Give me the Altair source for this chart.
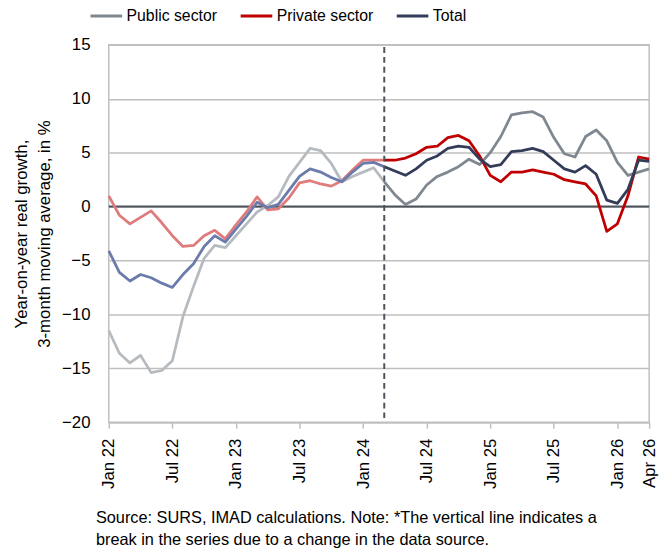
import altair as alt
import pandas as pd

MONTH_ABBR = ["Jan", "Feb", "Mar", "Apr", "May", "Jun", "Jul", "Aug", "Sep", "Oct", "Nov", "Dec"]
months = [f"{m} {y:02d}" for y in range(22, 27) for m in MONTH_ABBR][:52]  # Jan 22 .. Apr 26

tick_labels = ["Jan 22", "Jul 22", "Jan 23", "Jul 23", "Jan 24", "Jul 24",
               "Jan 25", "Jul 25", "Jan 26", "Apr 26"]
break_month = "Mar 24"
break_index = 26

series_names = ["Public sector", "Private sector", "Total"]

public = [-11.5, -13.6, -14.5, -13.8, -15.4, -15.2, -14.3, -10.2, -7.4, -4.8,
          -3.6, -3.8, -2.7, -1.6, -0.5, 0.1, 0.9, 2.8, 4.1, 5.4,
          5.2, 4.0, 2.3, 2.8, 3.2, 3.6, 2.3, 1.1, 0.2, 0.7,
          2.0, 2.8, 3.2, 3.7, 4.4, 3.9, 5.0, 6.5, 8.5, 8.7,
          8.8, 8.3, 6.4, 4.9, 4.6, 6.5, 7.1, 6.1, 4.1, 2.9,
          3.2, 3.5]
private = [1.0, -0.8, -1.6, -1.0, -0.4, -1.5, -2.7, -3.7, -3.6, -2.7,
           -2.2, -3.0, -1.7, -0.5, 0.9, -0.3, -0.2, 0.8, 2.2, 2.4,
           2.1, 1.9, 2.4, 3.4, 4.3, 4.3, 4.3, 4.3, 4.5, 4.9,
           5.5, 5.6, 6.4, 6.6, 6.1, 4.7, 2.9, 2.3, 3.2, 3.2,
           3.4, 3.2, 3.0, 2.5, 2.3, 2.1, 1.0, -2.3, -1.6, 1.0,
           4.6, 4.4]
total = [-4.1, -6.1, -6.9, -6.3, -6.6, -7.1, -7.5, -6.3, -5.3, -3.7,
         -2.7, -3.3, -2.1, -0.9, 0.4, -0.1, 0.2, 1.5, 2.8, 3.5,
         3.2, 2.7, 2.3, 3.2, 4.0, 4.1, 3.7, 3.3, 2.9, 3.5,
         4.3, 4.7, 5.4, 5.6, 5.5, 4.4, 3.7, 3.9, 5.1, 5.2,
         5.4, 5.1, 4.3, 3.5, 3.2, 3.8, 3.0, 0.6, 0.3, 1.6,
         4.3, 4.2]

full_colors = ["#7f8790", "#c00000", "#333d5a"]
faded_colors = ["#b6bbc0", "#df7b7b", "#6b7bab"]

rows = []
for name, vals in zip(series_names, [public, private, total]):
    for i, (m, v) in enumerate(zip(months, vals)):
        if i <= break_index:
            rows.append({"month": m, "series": name, "value": v, "part": "faded"})
        if i >= break_index:
            rows.append({"month": m, "series": name, "value": v, "part": "full"})
df = pd.DataFrame(rows)

FONT = "Liberation Sans"

x_enc = alt.X(
    "month:O",
    scale=alt.Scale(type="point", domain=months, padding=0),
    axis=alt.Axis(
        values=tick_labels, title=None, labelAngle=270, labelFont=FONT,
        labelFontSize=17, labelColor="#000000", labelPadding=10,
        tickColor="#bfbfbf", tickSize=6, tickWidth=1.5,
        domainColor="#bfbfbf", domainWidth=1.5, grid=False,
    ),
)
y_enc = alt.Y(
    "value:Q",
    scale=alt.Scale(domain=[-20, 15], nice=False, zero=False),
    axis=alt.Axis(
        values=[-20, -15, -10, -5, 0, 5, 10, 15],
        title=["Year-on-year real growth,", "3-month moving average, in %"],
        titleFont=FONT, titleFontSize=17, titleFontWeight="normal",
        titleColor="#000000", titleLineHeight=23, titlePadding=8,
        labelFont=FONT, labelFontSize=17, labelColor="#000000", labelPadding=19,
        ticks=False, domain=False, gridColor="#bfbfbf", gridWidth=1.5,
    ),
)

zero = alt.Chart(pd.DataFrame({"y": [0]})).mark_rule(
    color="#4d535a", strokeWidth=2
).encode(y=alt.Y("y:Q", scale=alt.Scale(domain=[-20, 15])))

faded = alt.Chart(df).transform_filter(alt.datum.part == "faded").mark_line(
    strokeWidth=2.8, strokeJoin="round"
).encode(
    x=x_enc, y=y_enc,
    color=alt.Color("series:N", scale=alt.Scale(domain=series_names, range=faded_colors), legend=None),
)

full = alt.Chart(df).transform_filter(alt.datum.part == "full").mark_line(
    strokeWidth=2.8, strokeJoin="round"
).encode(
    x=x_enc, y=y_enc,
    color=alt.Color(
        "series:N",
        scale=alt.Scale(domain=series_names, range=full_colors),
        sort=series_names,
        legend=alt.Legend(
            title=None, orient="none", direction="horizontal",
            legendX=-20, legendY=-47, padding=0,
            symbolType="stroke", symbolSize=1024, symbolStrokeWidth=3,
            labelFont=FONT, labelFontSize=16, labelColor="#000000",
            labelOffset=3, columnPadding=17, columns=3,
        ),
    ),
)

brk = alt.Chart(pd.DataFrame({"month": [break_month], "y1": [14.8], "y2": [-19.6]})).mark_rule(
    color="#4d535a", strokeWidth=2, strokeDash=[6, 4]
).encode(
    x=alt.X("month:O", scale=alt.Scale(type="point", domain=months, padding=0)),
    y=alt.Y("y1:Q", scale=alt.Scale(domain=[-20, 15])),
    y2="y2:Q",
)

chart = alt.layer(zero, faded, full, brk).resolve_scale(color="independent").properties(
    width=547,
    height=382,
    autosize=alt.AutoSizeParams(type="none"),
    padding={"left": 102, "top": 34, "right": 14, "bottom": 126},
    title=alt.TitleParams(
        text=["Source: SURS, IMAD calculations. Note: *The vertical line indicates a",
              "break in the series due to a change in the data source."],
        orient="bottom", anchor="start", frame="group", dx=-13, offset=22,
        font=FONT, fontSize=16.5, fontWeight="normal", color="#000000", lineHeight=22,
    ),
).configure_view(stroke="#bfbfbf", strokeWidth=1.5)

chart.save("out.html", embed_options={"renderer": "svg", "actions": False})
